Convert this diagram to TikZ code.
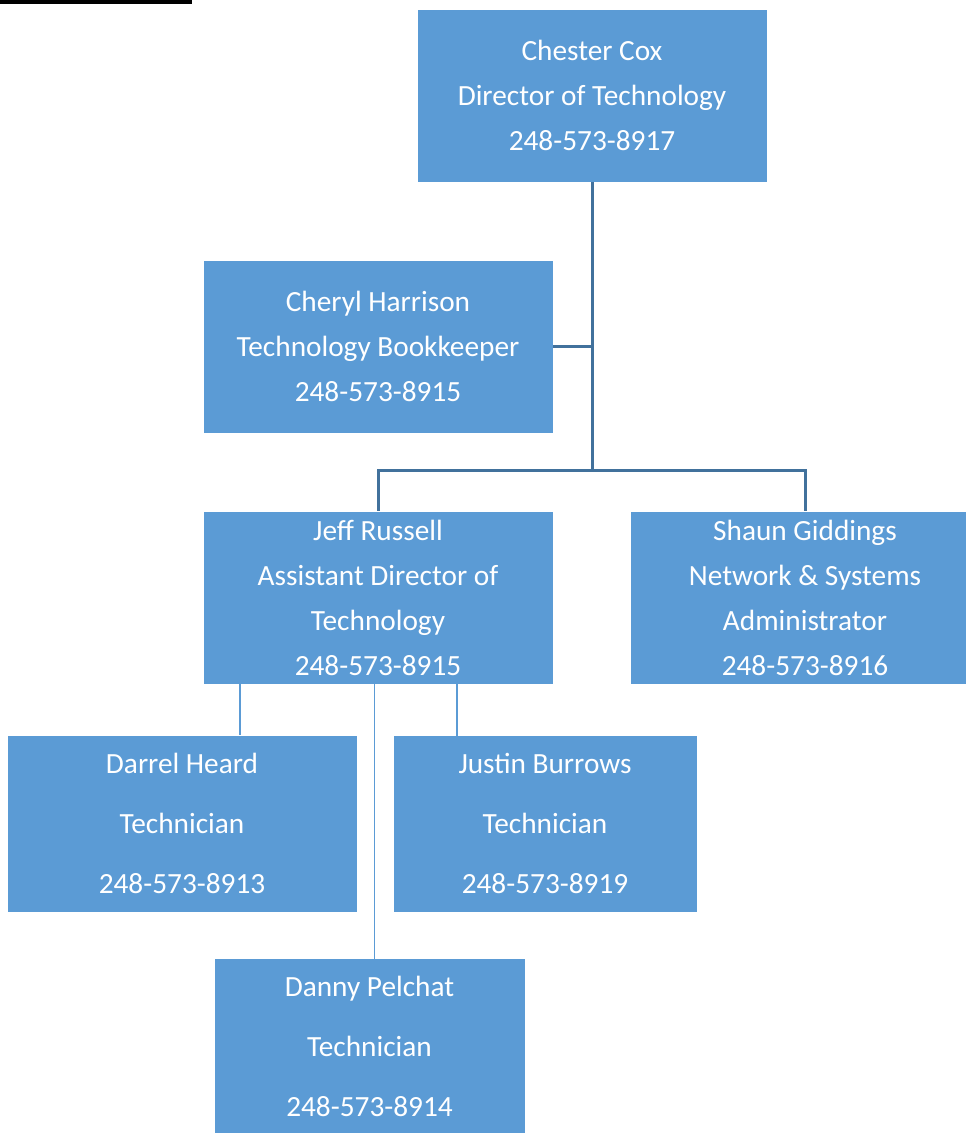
\documentclass[tikz,border=0pt]{standalone}
\usepackage{fontspec}
\setmainfont{Carlito}
\definecolor{boxblue}{HTML}{5B9BD5}
\definecolor{linedark}{HTML}{41719C}
\begin{document}
\begin{tikzpicture}[x=1pt,y=-1pt,
  orgbox/.style={rectangle, fill=boxblue, draw=white, line width=0.6pt, text=white,
    align=center, inner sep=0pt, font=\fontsize{29.3}{45}\selectfont},
  lowbox/.style={orgbox, font=\fontsize{29.3}{60}\selectfont},
  conn/.style={draw=linedark, line width=3pt},
  thinconn/.style={draw=boxblue, line width=1.3pt}]
\useasboundingbox (0,0) rectangle (966,1133);
\clip (0,0) rectangle (966,1133);
\fill[black] (0,0) rectangle (192,4);

\node[orgbox, minimum width=350pt, minimum height=173pt] (chester) at (592,95.5)
  {Chester Cox\\Director of Technology\\248-573-8917};
\node[orgbox, minimum width=350pt, minimum height=173pt] (cheryl) at (378,346.5)
  {Cheryl Harrison\\Technology Bookkeeper\\248-573-8915};
\node[orgbox, minimum width=350pt, minimum height=173pt] (jeff) at (378,597.5)
  {Jeff Russell\\Assistant Director of\\Technology\\248-573-8915};
\node[orgbox, minimum width=350pt, minimum height=173pt] (shaun) at (805,597.5)
  {Shaun Giddings\\Network \& Systems\\Administrator\\248-573-8916};
\node[lowbox, minimum width=350pt, minimum height=177pt] (darrel) at (182,823.5)
  {Darrel Heard\\Technician\\248-573-8913};
\node[lowbox, minimum width=304pt, minimum height=177pt] (justin) at (545,823.5)
  {Justin Burrows\\Technician\\248-573-8919};
\node[lowbox, minimum width=311pt, minimum height=177pt] (danny) at (369.5,1046.5)
  {Danny Pelchat\\Technician\\248-573-8914};

\coordinate (hub) at (592,470);
\draw[conn] (chester.south) -- (hub);
\draw[conn] (cheryl.east) -- (cheryl.east -| hub);
\draw[conn] (jeff.north) |- (hub) -| (shaun.north);

\draw[thinconn] (jeff.south -| 240,0) -- (darrel.north -| 240,0);
\draw[thinconn] (jeff.south -| 457,0) -- ([yshift=-3pt]justin.north -| 457,0);
\draw[thinconn] (jeff.south -| 374.5,0) -- ([yshift=-3pt]danny.north -| 374.5,0);
\end{tikzpicture}
\end{document}
